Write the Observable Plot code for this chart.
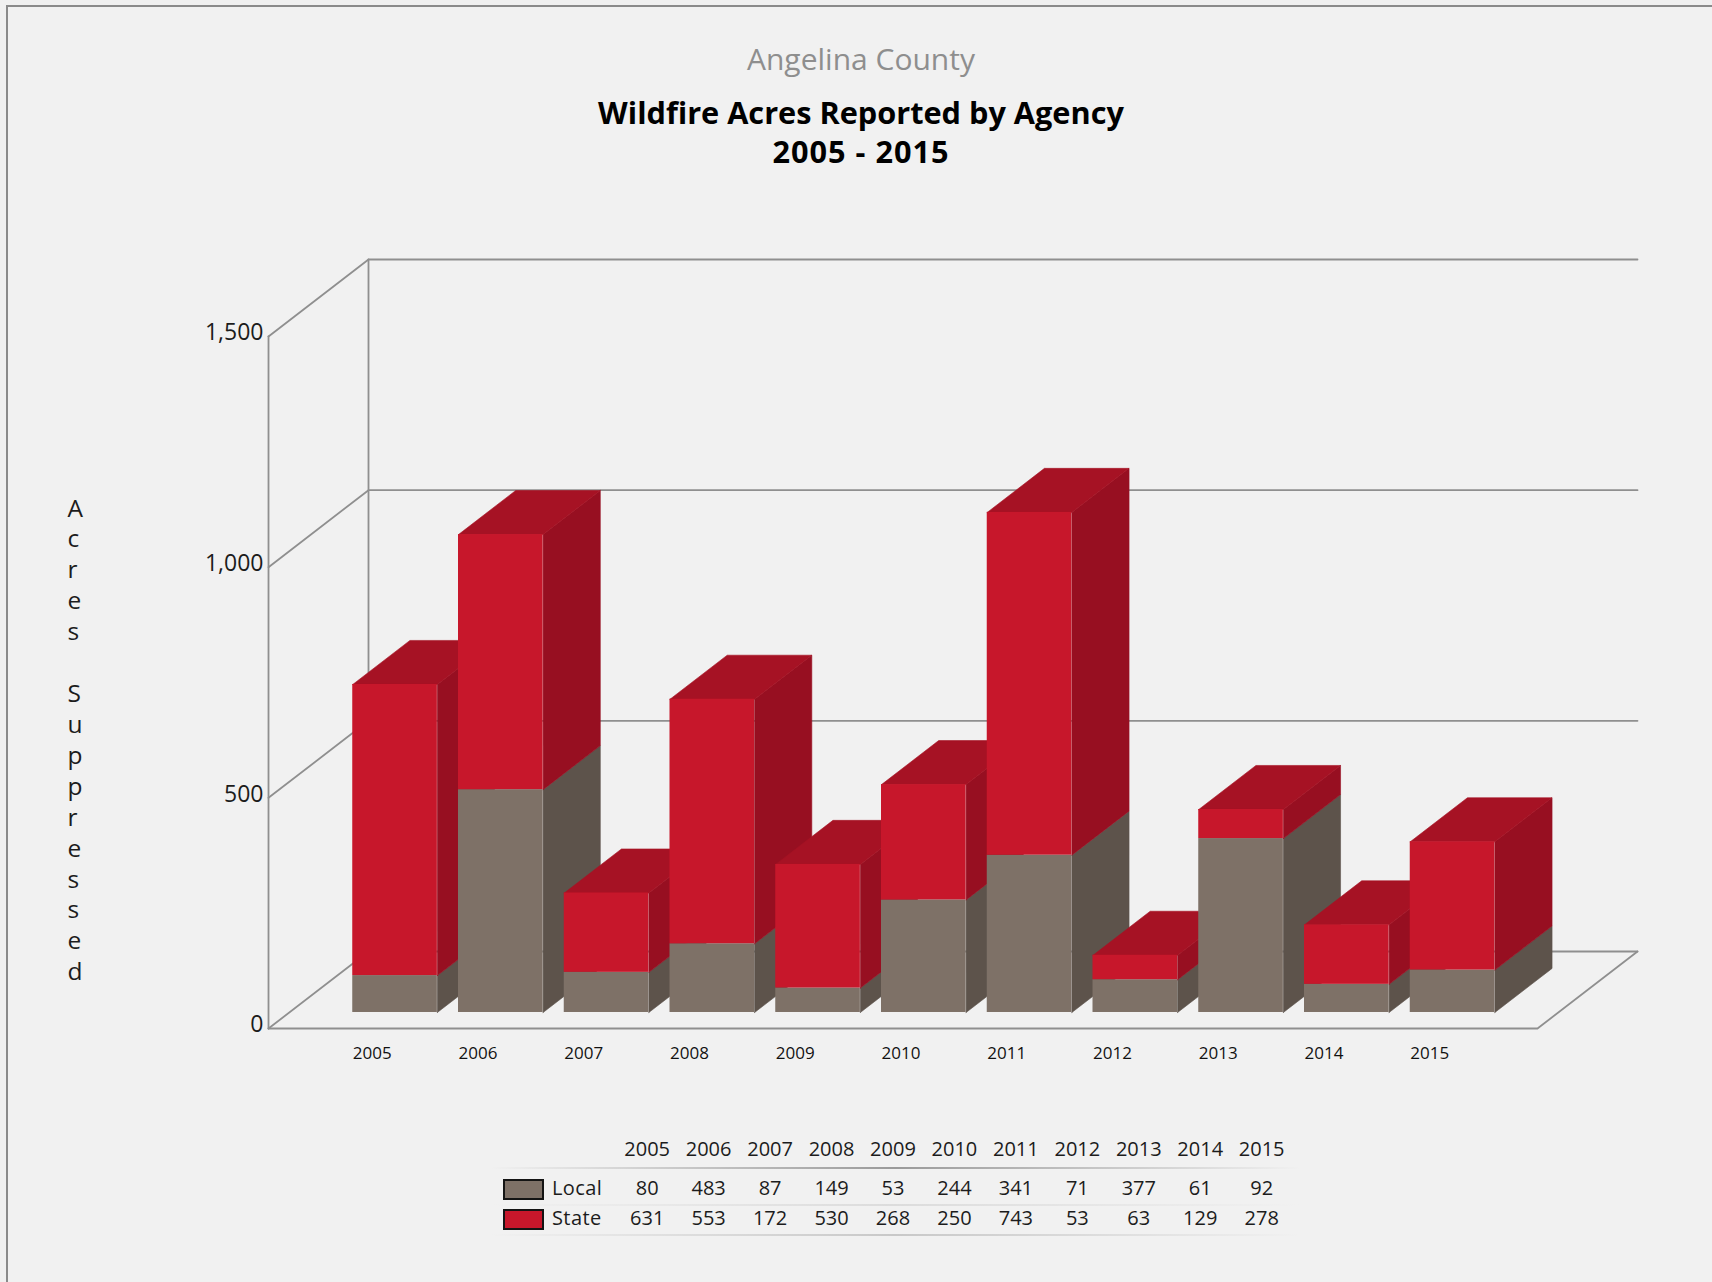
<!DOCTYPE html>
<html>
<head>
<meta charset="utf-8">
<script src="https://cdn.jsdelivr.net/npm/d3@7"></script>
<script src="https://cdn.jsdelivr.net/npm/@observablehq/plot@0.6"></script>
<style>
  html, body { margin: 0; padding: 0; background: #f0f0f0; }
  body { width: 1712px; height: 1282px; overflow: hidden; position: relative; font-family: "Open Sans", sans-serif; }
  #panel { position: absolute; left: 6px; top: 5px; right: -10px; bottom: -10px; background: #f1f1f1; border-left: 2px solid #8a8a8a; border-top: 2px solid #8a8a8a; }
  #head { position: absolute; left: 0; top: 0; width: 1722px; height: 190px; text-align: center; }
  #head div { position: absolute; left: 0; width: 1722px; white-space: nowrap; }
  #sub { top: 39px; font-size: 30px; line-height: 40px; color: #8e8e8e; }
  .ttl { font-size: 30.7px; line-height: 40px; font-weight: 700; color: #000; }
  #chart { position: absolute; left: 0; top: 190px; }
  #chart svg { display: block; }
  #tbl { position: absolute; left: 0; top: 1126px; width: 1712px; height: 130px; color: #1c1c1c; font-size: 20px; }
  #tbl .cell { position: absolute; width: 61.4px; text-align: center; line-height: 28px; height: 28px; }
  #tbl .name { position: absolute; left: 552px; line-height: 28px; height: 28px; letter-spacing: 0.4px; }
  #tbl .swatch { position: absolute; left: 503px; width: 37px; height: 17px; border: 2px solid #141414; box-sizing: content-box; }
  #tbl .sep { position: absolute; left: 490px; width: 810px; height: 2px; }
</style>
</head>
<body>
<div id="panel"></div>
<div id="head">
  <div id="sub">Angelina County</div>
  <div class="ttl" style="top:92px">Wildfire Acres Reported by Agency</div>
  <div class="ttl" style="top:131px;letter-spacing:1px">2005 - 2015</div>
</div>
<div id="chart"></div>
<div id="tbl"></div>
<script>
const years = [2005, 2006, 2007, 2008, 2009, 2010, 2011, 2012, 2013, 2014, 2015];
const local = [80, 483, 87, 149, 53, 244, 341, 71, 377, 61, 92];
const state = [631, 553, 172, 530, 268, 250, 743, 53, 63, 129, 278];
const yTicks = [0, 500, 1000, 1500];
const axisTitle = "Acres Suppressed";

const localColors = {front: "#7e7167", side: "#5d534b"};
const stateColors = {front: "#c7172b", side: "#970f21", top: "#a61224"};
const gridColor = "#8f8f8f";
const font = "Open Sans";

// Oblique projection of the scene: depth 0 is the front plane, depth 1 the back wall.
const depthX = 0.9456;   // x-units per full depth
const depthY = 166.9;    // acres per full depth
const px = (u, d) => u + d * depthX;
const py = (v, d) => v + d * depthY;
const barFront = 0.208, barBack = 0.78, halfBar = 0.4;

const sideTop = [];
const fronts = [];
years.forEach((yr, i) => {
  const l = i + 1 - halfBar, r = i + 1 + halfBar;
  const poly = (id, fill, pts) => [...pts, pts[0]].forEach(([u, v, d]) =>
    sideTop.push({id, fill, x: px(u, d), y: py(v, d)}));
  const segs = [
    {v0: 0, v1: local[i], c: localColors},
    {v0: local[i], v1: local[i] + state[i], c: stateColors}
  ];
  segs.forEach((s, k) => {
    poly(`s${i}-${k}`, s.c.side, [[r, s.v0, barFront], [r, s.v0, barBack], [r, s.v1, barBack], [r, s.v1, barFront]]);
    fronts.push({x1: px(l, barFront), x2: px(r, barFront), y1: py(s.v0, barFront), y2: py(s.v1, barFront), fill: s.c.front});
  });
  const t = local[i] + state[i];
  poly(`t${i}`, stateColors.top, [[l, t, barFront], [r, t, barFront], [r, t, barBack], [l, t, barBack]]);
});

// Frame lines: walls, floor and gridlines.
const frame = [];
const seg = (id, pts) => pts.forEach(([u, v, d]) => frame.push({id, x: px(u, d), y: py(v, d)}));
const xMax = years.length + 1;
const yMax = yTicks[yTicks.length - 1];
yTicks.forEach(v => seg(`g${v}`, [[0, v, 0], [0, v, 1], [xMax, v, 1]]));
seg("front-left", [[0, 0, 0], [0, yMax, 0]]);
seg("back-left", [[0, 0, 1], [0, yMax, 1]]);
seg("floor", [[0, 0, 0], [xMax, 0, 0], [xMax, 0, 1]]);

const letters = axisTitle.split("").join("\n");

const chart = Plot.plot({
  width: 1712,
  height: 920,
  marginLeft: 268,
  marginRight: 175,
  marginTop: 146,
  marginBottom: 82,
  style: {background: "transparent", fontFamily: font},
  x: {domain: [0, xMax], axis: null},
  y: {domain: [0, yMax], axis: null},
  color: {type: "identity"},
  marks: [
    Plot.line(frame, {x: "x", y: "y", z: "id", stroke: gridColor, strokeWidth: 1.8}),
    Plot.line(sideTop, {x: "x", y: "y", z: "id", fill: "fill", stroke: "fill", strokeWidth: 0.6}),
    Plot.rect(fronts, {x1: "x1", x2: "x2", y1: "y1", y2: "y2", fill: "fill", inset: 0}),
    Plot.axisY({ticks: yTicks, tickFormat: d3.format(","), tickSize: 0, tickPadding: 5, label: null, fontSize: 23, dy: -3.5, fill: "#1c1c1c"}),
    Plot.text(years, {
      x: (d, i) => px(i + 1 - halfBar, barFront),
      text: d => String(d),
      frameAnchor: "bottom",
      textAnchor: "start",
      dy: 30,
      fontSize: 17,
      fill: "#111"
    }),
    Plot.text([letters], {
      text: d => d,
      frameAnchor: "left",
      dx: -201,
      dy: 56,
      fontSize: 24.5,
      lineHeight: 1.262,
      fill: "#1c1c1c"
    })
  ]
});
document.getElementById("chart").append(chart);

// Data table under the chart.
const tbl = document.getElementById("tbl");
const colX = i => 616.5 + i * 61.45;
const add = (cls, css, txt) => {
  const el = document.createElement("div");
  el.className = cls;
  el.style.cssText = css;
  if (txt != null) el.textContent = txt;
  tbl.append(el);
};
const rowTop = {head: 9, local: 48, state: 78};
years.forEach((yr, i) => add("cell", `left:${colX(i)}px;top:${rowTop.head}px`, yr));
[["Local", local, localColors.front, rowTop.local], ["State", state, stateColors.front, rowTop.state]].forEach(([name, vals, col, t]) => {
  add("swatch", `top:${t + 5}px;background:${col}`);
  add("name", `top:${t}px`, name);
  vals.forEach((v, i) => add("cell", `left:${colX(i)}px;top:${t}px`, v));
});
[[41, "#9a9a9a"], [78, "#dcdcdc"], [108, "#c8c8c8"]].forEach(([t, c]) =>
  add("sep", `top:${t}px;background:linear-gradient(to right, rgba(0,0,0,0), ${c}, rgba(0,0,0,0))`));
</script>
</body>
</html>
